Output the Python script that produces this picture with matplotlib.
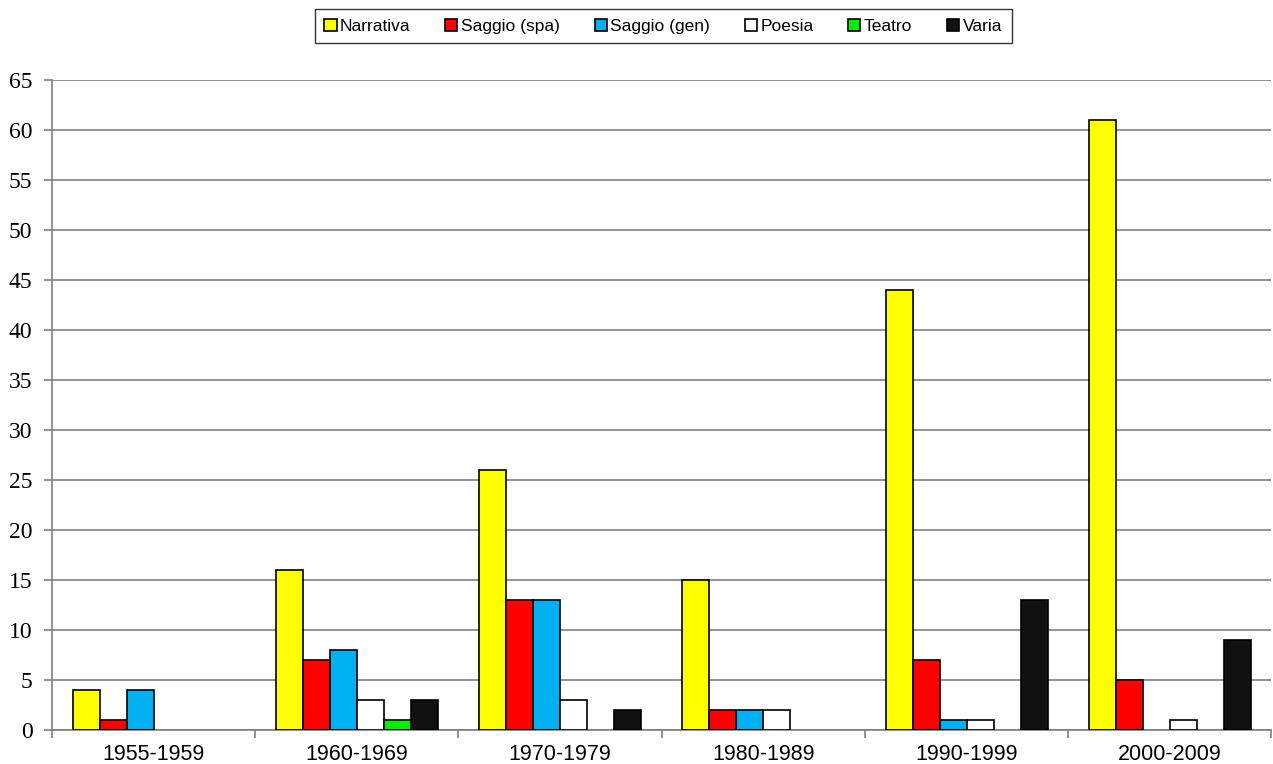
import matplotlib.pyplot as plt
import numpy as np
from matplotlib.font_manager import FontProperties

periods = ["1955-1959", "1960-1969", "1970-1979", "1980-1989", "1990-1999", "2000-2009"]
series = ["Narrativa", "Saggio (spa)", "Saggio (gen)", "Poesia", "Teatro", "Varia"]
narrativa = [4, 16, 26, 15, 44, 61]
saggio_spa = [1, 7, 13, 2, 7, 5]
saggio_gen = [4, 8, 13, 2, 1, 0]
poesia = [0, 3, 3, 2, 1, 1]
teatro = [0, 1, 0, 0, 0, 0]
varia = [0, 3, 2, 0, 13, 9]

values = [narrativa, saggio_spa, saggio_gen, poesia, teatro, varia]
colors = ["#ffff00", "#ff0000", "#00b0f0", "#ffffff", "#00ee00", "#111111"]

fig = plt.figure(figsize=(12.73, 7.64), dpi=100)
ax = fig.add_axes([0.0408, 0.0445, 0.958, 0.851])

x = np.arange(len(periods))
w = 0.1328
for j, (name, vals, c) in enumerate(zip(series, values, colors)):
    vals = np.array(vals, dtype=float)
    # skip empty bars so no outline is drawn on the axis
    nz = vals > 0
    ax.bar(x[nz] + (j - 2.5) * w, vals[nz], width=w, color=c, edgecolor="black",
           linewidth=1.2, label=name, zorder=3)

ax.set_xlim(-0.5, len(periods) - 0.5)
ax.set_ylim(0, 65)
ax.set_yticks(range(0, 66, 5))
ax.yaxis.grid(True, color="#808080", linewidth=1.2, zorder=0)
ax.set_axisbelow(True)

for s in ["top", "right"]:
    ax.spines[s].set_visible(False)
for s in ["left", "bottom"]:
    ax.spines[s].set_color("#808080")
    ax.spines[s].set_linewidth(1.2)

ax.set_xticks(x)
ax.set_xticklabels(periods, fontsize=15.5, family=["Liberation Sans", "DejaVu Sans"])
ax.tick_params(axis="x", length=0, pad=10)
ax.set_xticks(np.arange(-0.5, len(periods)), minor=True)
ax.tick_params(axis="x", which="minor", length=6, color="#808080", width=1.2)
ax.tick_params(axis="y", length=6, color="#808080", width=1.2, labelsize=17, pad=8)
for lab in ax.get_yticklabels():
    lab.set_family(["Liberation Serif", "DejaVu Serif"])

leg_font = FontProperties(family=["Liberation Sans", "DejaVu Sans"], size=12.5)
leg = fig.legend(loc="upper center", bbox_to_anchor=(0.521, 0.988), ncol=6, frameon=True,
                 fancybox=False, edgecolor="black", prop=leg_font, handlelength=0.7,
                 handleheight=0.7, handletextpad=0.2, columnspacing=2.0, borderpad=0.55,
                 borderaxespad=0)
leg.get_frame().set_linewidth(1.0)

fig.savefig("out.png", dpi=100)
